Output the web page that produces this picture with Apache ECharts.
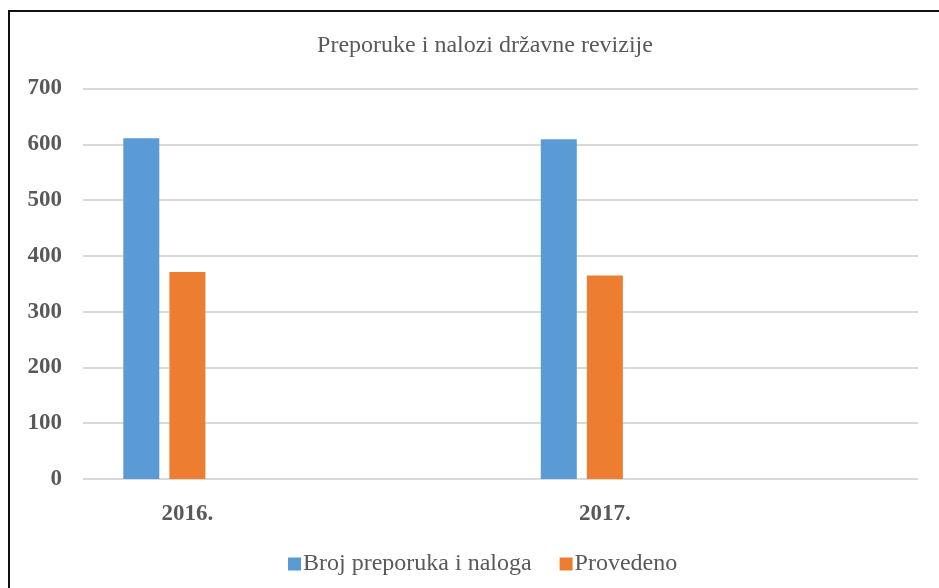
<!DOCTYPE html>
<html>
<head>
<meta charset="utf-8">
<script src="https://cdn.jsdelivr.net/npm/echarts@6/dist/echarts.min.js"></script>
<style>
html,body{margin:0;padding:0;background:#fff;}
#c{width:939px;height:588px;}
</style>
</head>
<body>
<div id="c"></div>
<script>
const title = 'Preporuke i nalozi državne revizije';
const categories = ['2016.', '', '2017.', ''];
const seriesNames = ['Broj preporuka i naloga', 'Provedeno'];
const brojPreporuka = [611, null, 609, null];
const provedeno = [371, null, 365, null];
const spacer = [null, null, null, null];
const yTicks = [0, 100, 200, 300, 400, 500, 600, 700];

const FONT = '"Liberation Serif", "DejaVu Serif", serif';
const TXT = '#595959';

const chart = echarts.init(document.getElementById('c'), null, {renderer: 'canvas'});
chart.setOption({
  animation: false,
  backgroundColor: '#fff',
  title: {
    text: title,
    left: 480, top: 29, textAlign: 'center',
    textStyle: {fontFamily: FONT, fontSize: 24, fontWeight: 'normal', color: TXT}
  },
  legend: {
    data: seriesNames,
    left: 283, top: 547,
    itemWidth: 13, itemHeight: 13, itemGap: 28,
    icon: 'rect',
    textStyle: {fontFamily: FONT, fontSize: 24, color: TXT, padding: [0, 0, 0, -3]}
  },
  grid: {left: 83, right: 21, top: 88.5, bottom: 109, containLabel: false},
  xAxis: {
    type: 'category',
    data: categories,
    axisLine: {show: false},
    axisTick: {show: false},
    axisLabel: {fontFamily: FONT, fontSize: 23, color: TXT, margin: 24, fontWeight: 'bold'}
  },
  yAxis: {
    type: 'value',
    min: yTicks[0], max: yTicks[yTicks.length - 1], interval: 100,
    axisLine: {show: false},
    axisTick: {show: false},
    axisLabel: {fontFamily: FONT, fontSize: 23, color: TXT, margin: 21, fontWeight: 'bold'},
    splitLine: {lineStyle: {color: '#d9d9d9', width: 2}}
  },
  series: [
    {name: seriesNames[0], type: 'bar', data: brojPreporuka, barWidth: 36, barGap: '28%', itemStyle: {color: '#5B9BD5'}},
    {name: seriesNames[1], type: 'bar', data: provedeno, barWidth: 36, barGap: '28%', itemStyle: {color: '#ED7D31'}},
    {name: 'spacer', type: 'bar', data: spacer, barWidth: 36, barGap: '28%', itemStyle: {color: 'transparent'}}
  ],
  graphic: [
    {type: 'rect', shape: {x: 9, y: 11, width: 1000, height: 1000},
     style: {fill: 'none', stroke: '#111', lineWidth: 2}, silent: true}
  ]
});
</script>
</body>
</html>
